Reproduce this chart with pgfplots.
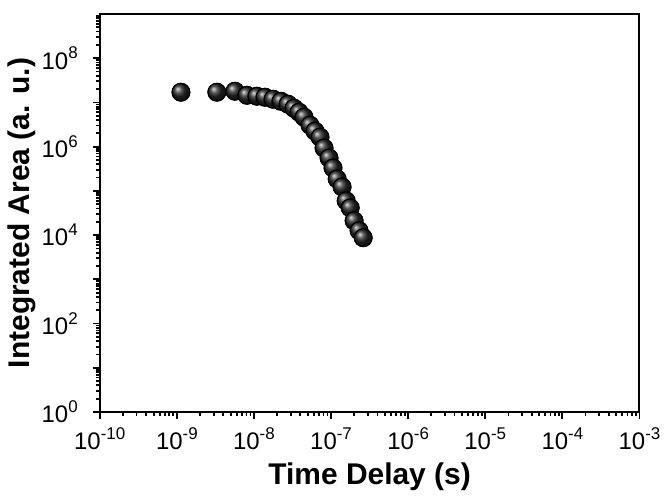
\documentclass[border=0pt]{standalone}
\usepackage{fontspec}
\setmainfont{Liberation Sans}
\usepackage{pgfplots}
\pgfplotsset{compat=1.18}
\pgfdeclareplotmark{ball}{%
  \shade[ball color=black!85] (0pt,0pt) circle (\pgfplotmarksize);
  \draw[black, line width=0.5pt] (0pt,0pt) circle (\pgfplotmarksize);}
\newcommand\sups[1]{\raisebox{0.42em}{\fontsize{8.5}{9}\selectfont #1}}
\begin{document}
\begin{tikzpicture}
\begin{axis}[
  scale only axis, width=270.5pt, height=199.5pt,
  xmode=log, ymode=log,
  xmin=1e-10, xmax=1e-3, ymin=1, ymax=1e9,
  axis line style={line width=1pt},
  every tick/.style={line width=0.9pt, black},
  tick align=outside, tick pos=left,
  major tick length=3.5pt, minor tick length=2pt,
  xtick={1e-10,1e-9,1e-8,1e-7,1e-6,1e-5,1e-4,1e-3},
  xticklabels={10\sups{-10},10\sups{-9},10\sups{-8},10\sups{-7},10\sups{-6},10\sups{-5},10\sups{-4},10\sups{-3}},
  minor xtick={2e-10,3e-10,4e-10,5e-10,6e-10,7e-10,8e-10,9e-10,
    2e-9,3e-9,4e-9,5e-9,6e-9,7e-9,8e-9,9e-9,
    2e-8,3e-8,4e-8,5e-8,6e-8,7e-8,8e-8,9e-8,
    2e-7,3e-7,4e-7,5e-7,6e-7,7e-7,8e-7,9e-7,
    2e-6,3e-6,4e-6,5e-6,6e-6,7e-6,8e-6,9e-6,
    2e-5,3e-5,4e-5,5e-5,6e-5,7e-5,8e-5,9e-5,
    2e-4,3e-4,4e-4,5e-4,6e-4,7e-4,8e-4,9e-4},
  ytick={1,1e1,1e2,1e3,1e4,1e5,1e6,1e7,1e8},
  yticklabels={10\sups{0},{},10\sups{2},{},10\sups{4},{},10\sups{6},{},10\sups{8}},
  minor ytick={2,3,4,5,6,7,8,9,
    2e1,3e1,4e1,5e1,6e1,7e1,8e1,9e1,
    2e2,3e2,4e2,5e2,6e2,7e2,8e2,9e2,
    2e3,3e3,4e3,5e3,6e3,7e3,8e3,9e3,
    2e4,3e4,4e4,5e4,6e4,7e4,8e4,9e4,
    2e5,3e5,4e5,5e5,6e5,7e5,8e5,9e5,
    2e6,3e6,4e6,5e6,6e6,7e6,8e6,9e6,
    2e7,3e7,4e7,5e7,6e7,7e7,8e7,9e7,
    2e8,3e8,4e8,5e8,6e8,7e8,8e8,9e8},
  tick label style={font=\fontsize{12}{14}\selectfont},
  xticklabel style={yshift=-1pt},
  yticklabel style={xshift=-4pt},
  xlabel={Time Delay (s)},
  ylabel={Integrated Area (a. u.)},
  label style={font=\bfseries\fontsize{15}{18}\selectfont},
  xlabel style={yshift=0.5pt},
  ylabel style={yshift=-4pt},
]
\addplot[only marks, mark=ball, mark size=4.5pt] coordinates {
(1.13e-9,1.70e7)
(3.30e-9,1.70e7)
(5.66e-9,1.79e7)
(8.11e-9,1.45e7)
(1.09e-8,1.38e7)
(1.39e-8,1.31e7)
(1.77e-8,1.18e7)
(2.24e-8,1.06e7)
(2.77e-8,9.10e6)
(3.30e-8,7.40e6)
(3.84e-8,6.01e6)
(4.46e-8,4.64e6)
(5.33e-8,3.06e6)
(6.19e-8,2.24e6)
(7.19e-8,1.64e6)
(8.11e-8,9.29e5)
(9.42e-8,5.53e5)
(1.06e-7,3.30e5)
(1.20e-7,1.86e5)
(1.39e-7,1.23e5)
(1.57e-7,5.96e4)
(1.77e-7,4.14e4)
(1.99e-7,2.11e4)
(2.31e-7,1.26e4)
(2.61e-7,8.73e3)
};
\end{axis}
\path ([shift={(-50pt,7pt)}]current axis.north west);
\path ([shift={(13pt,-40pt)}]current axis.south east);
\end{tikzpicture}
\end{document}
